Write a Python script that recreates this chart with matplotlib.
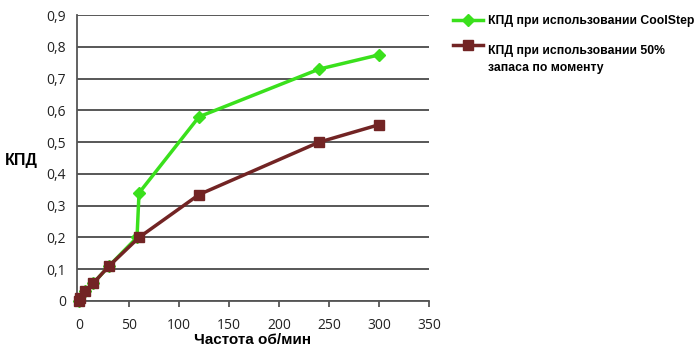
import matplotlib
matplotlib.use("Agg")
import matplotlib.pyplot as plt
from matplotlib.lines import Line2D
from matplotlib.ticker import FuncFormatter

# data
cool_x = [0, 6, 14, 30, 58, 60, 120, 240, 300]
cool_y = [0, 0.03, 0.055, 0.11, 0.2, 0.34, 0.58, 0.73, 0.775]
marg_x = [0, 1, 6, 14, 30, 60, 120, 240, 300]
marg_y = [0, 0.01, 0.03, 0.055, 0.11, 0.2, 0.335, 0.5, 0.555]

x_ticks = [0, 50, 100, 150, 200, 250, 300, 350]
y_ticks = [0, 0.1, 0.2, 0.3, 0.4, 0.5, 0.6, 0.7, 0.8, 0.9]
labels = ["КПД при использовании CoolStep", "КПД при использовании 50%\nзапаса по моменту"]

W, H = 700, 352
fig = plt.figure(figsize=(W / 100, H / 100), dpi=100)
ax = fig.add_axes([0.11, 0.145, 0.503, 0.812])

green = "#3ae01c"
brown = "#722424"

ax.plot(cool_x, cool_y, color=green, lw=2.5, marker="D", ms=6, zorder=3, clip_on=False)
ax.plot(marg_x, marg_y, color=brown, lw=2.5, marker="s", ms=7.5, zorder=4, clip_on=False)

ax.set_xlim(-2, 350)
ax.set_ylim(0, 0.9)
ax.set_xticks(x_ticks)
ax.set_yticks(y_ticks)
ax.yaxis.set_major_formatter(FuncFormatter(lambda v, p: "0" if v == 0 else f"{v:.1f}".replace(".", ",")))
ax.yaxis.grid(True, color="#4a4a4a", lw=1.3)
ax.set_axisbelow(True)

for s in ["top", "right"]:
    ax.spines[s].set_visible(False)
for s in ["left", "bottom"]:
    ax.spines[s].set_color("#555555")
    ax.spines[s].set_linewidth(1.3)

ax.tick_params(axis="y", length=0, pad=8, labelsize=10, colors="#222222")
ax.tick_params(axis="x", length=4, width=1.3, color="#555555", pad=8, labelsize=10, labelcolor="#222222")
for lab in ax.get_xticklabels() + ax.get_yticklabels():
    lab.set_family("Open Sans")

ax.set_xlabel("Частота об/мин", fontsize=11, fontweight="bold", family="Liberation Sans", labelpad=0)
fig.text(0.007, 0.545, "КПД", fontsize=11.5, fontweight="bold", family="Liberation Sans", va="center")

# legend drawn by hand: handle sits above the two text lines like in the original
leg_font = {"family": "Liberation Sans", "weight": "bold", "size": 8.8}
# green entry
fig.add_artist(Line2D([453 / W, 483 / W], [1 - 20 / H] * 2, color=green, lw=2.5))
fig.add_artist(Line2D([468 / W], [1 - 20 / H], color=green, marker="D", ms=6))
fig.text(488 / W, 1 - 21 / H, labels[0], va="center", **leg_font)
# brown entry
fig.add_artist(Line2D([453 / W, 483 / W], [1 - 45 / H] * 2, color=brown, lw=2.5))
fig.add_artist(Line2D([468 / W], [1 - 45 / H], color=brown, marker="s", ms=7.5))
fig.text(488 / W, 1 - 45 / H, labels[1], va="top", linespacing=1.55, **leg_font)

fig.savefig("out.png", dpi=100)
